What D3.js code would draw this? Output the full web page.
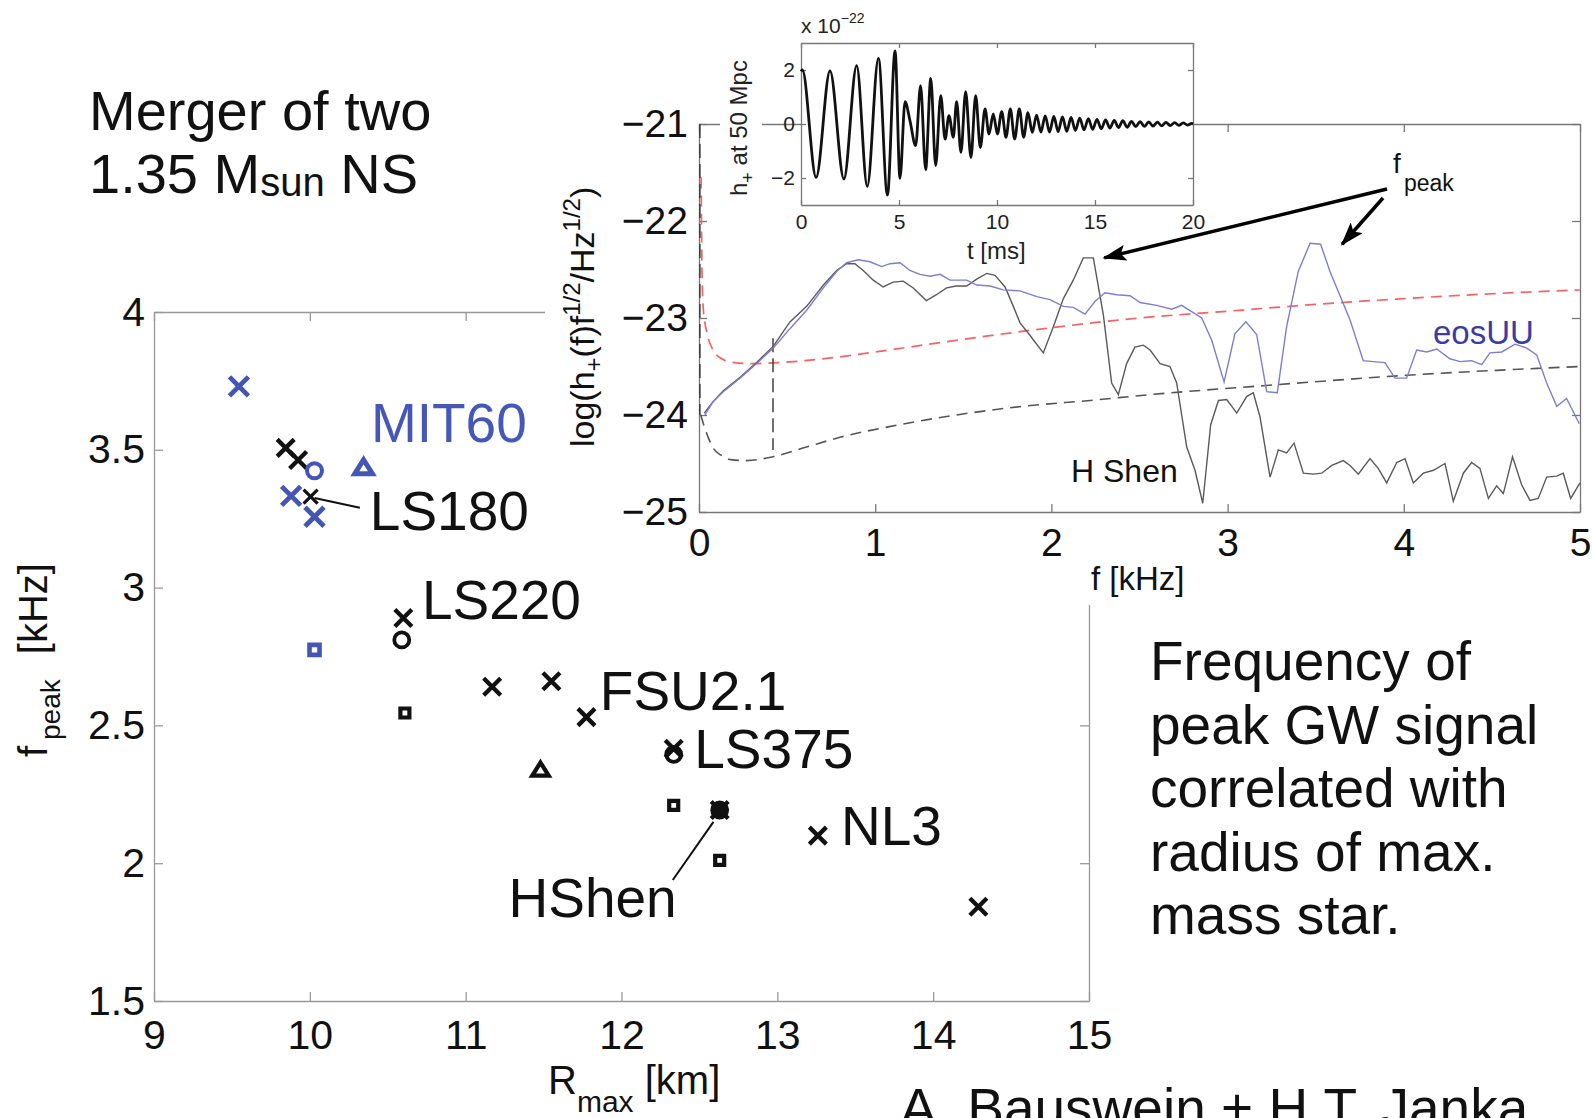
<!DOCTYPE html>
<html><head><meta charset="utf-8">
<script src="https://cdn.jsdelivr.net/npm/d3@7"></script>
<style>
html,body{margin:0;padding:0;background:#fff;}
svg{display:block;font-family:"Liberation Sans",Arial,Helvetica,sans-serif;}
</style></head><body>
<svg id="c" width="1592" height="1118"></svg>
<script>
// ---------------- DATA ----------------
// main scatter: f_peak [kHz] vs R_max [km]
const rTicks = [9, 10, 11, 12, 13, 14, 15];
const fTicks = [1.5, 2, 2.5, 3, 3.5, 4];
const blueCrossR = [9.545, 9.88, 10.03];
const blueCrossF = [3.73, 3.333, 3.257];
const blueCircleR = [10.03];
const blueCircleF = [3.424];
const blueTriangleR = [10.345];
const blueTriangleF = [3.435];
const blueSquareR = [10.03];
const blueSquareF = [2.774];
const blackCrossR = [9.845, 9.925, 10.60, 11.17, 11.55, 11.775, 12.335, 12.63, 13.26, 14.29];
const blackCrossF = [3.507, 3.463, 2.89, 2.64, 2.66, 2.53, 2.415, 2.193, 2.10, 1.842];
const ls180CrossR = [10.005];
const ls180CrossF = [3.33];
const blackCircleR = [10.59, 12.335, 12.63];
const blackCircleF = [2.81, 2.395, 2.193];
const blackSquareR = [10.61, 12.335, 12.63, 12.63];
const blackSquareF = [2.545, 2.21, 2.193, 2.01];
const blackTriangleR = [11.48];
const blackTriangleF = [2.338];
const eosNames = ["MIT60", "LS180", "LS220", "FSU2.1", "LS375", "NL3", "HShen"];
const eosLabelR = [10.392, 10.385, 10.719, 11.861, 12.467, 13.409, 11.275];
const eosLabelF = [3.528, 3.209, 2.886, 2.556, 2.345, 2.066, 1.805];

// spectrum inset: log(h+(f) f^1/2 / Hz^1/2) vs f [kHz]
const specFTicks = [0, 1, 2, 3, 4, 5];
const specVTicks = [-25, -24, -23, -22, -21];
const eosUU = [[0.034,-24.0],[0.081,-23.86],[0.138,-23.76],[0.233,-23.62],[0.327,-23.47],[0.422,-23.31],[0.516,-23.11],[0.611,-22.92],[0.706,-22.69],[0.781,-22.52],[0.838,-22.43],[0.904,-22.40],[0.970,-22.42],[1.037,-22.47],[1.084,-22.44],[1.141,-22.43],[1.197,-22.51],[1.254,-22.55],[1.311,-22.57],[1.368,-22.55],[1.425,-22.61],[1.519,-22.61],[1.576,-22.66],[1.652,-22.67],[1.727,-22.71],[1.822,-22.72],[1.917,-22.78],[1.992,-22.81],[2.068,-22.88],[2.124,-22.89],[2.191,-22.96],[2.247,-22.83],[2.304,-22.74],[2.370,-22.76],[2.446,-22.77],[2.503,-22.84],[2.598,-22.87],[2.683,-22.91],[2.739,-22.87],[2.853,-23.0],[2.910,-23.23],[2.980,-23.66],[3.042,-23.16],[3.104,-23.04],[3.165,-23.17],[3.222,-23.76],[3.282,-23.77],[3.335,-23.09],[3.401,-22.52],[3.468,-22.23],[3.528,-22.24],[3.581,-22.52],[3.695,-23.02],[3.770,-23.44],[3.827,-23.45],[3.893,-23.46],[3.950,-23.62],[4.016,-23.62],[4.073,-23.33],[4.130,-23.35],[4.187,-23.32],[4.262,-23.42],[4.319,-23.45],[4.385,-23.44],[4.442,-23.48],[4.489,-23.36],[4.556,-23.35],[4.631,-23.27],[4.698,-23.31],[4.754,-23.38],[4.811,-23.67],[4.868,-23.91],[4.924,-23.83],[4.996,-24.09]];
const hShen = [[0.03,-23.98],[0.081,-23.86],[0.138,-23.75],[0.233,-23.61],[0.327,-23.46],[0.422,-23.29],[0.516,-23.04],[0.611,-22.88],[0.706,-22.66],[0.781,-22.51],[0.838,-22.44],[0.885,-22.44],[0.932,-22.51],[0.989,-22.61],[1.045,-22.68],[1.102,-22.63],[1.159,-22.62],[1.216,-22.69],[1.29,-22.82],[1.348,-22.76],[1.405,-22.69],[1.46,-22.67],[1.519,-22.67],[1.576,-22.60],[1.633,-22.54],[1.68,-22.56],[1.737,-22.68],[1.784,-22.88],[1.822,-23.05],[1.879,-23.18],[1.954,-23.36],[2.011,-23.09],[2.068,-22.80],[2.124,-22.61],[2.181,-22.38],[2.238,-22.38],[2.295,-22.97],[2.342,-23.67],[2.38,-23.79],[2.427,-23.47],[2.474,-23.30],[2.522,-23.28],[2.56,-23.33],[2.617,-23.47],[2.673,-23.50],[2.711,-23.67],[2.768,-24.33],[2.815,-24.57],[2.859,-24.91],[2.904,-24.10],[2.948,-23.85],[2.995,-23.84],[3.052,-23.98],[3.108,-23.81],[3.146,-23.77],[3.184,-24.02],[3.241,-24.64],[3.288,-24.36],[3.335,-24.39],[3.377,-24.29],[3.43,-24.60],[3.487,-24.61],[3.534,-24.60],[3.591,-24.52],[3.657,-24.47],[3.695,-24.52],[3.742,-24.61],[3.808,-24.45],[3.855,-24.55],[3.903,-24.70],[3.96,-24.49],[4.007,-24.45],[4.054,-24.70],[4.111,-24.60],[4.168,-24.57],[4.234,-24.50],[4.281,-24.89],[4.338,-24.60],[4.385,-24.49],[4.432,-24.55],[4.48,-24.86],[4.527,-24.73],[4.565,-24.81],[4.617,-24.43],[4.669,-24.72],[4.716,-24.88],[4.763,-24.86],[4.811,-24.64],[4.868,-24.63],[4.905,-24.60],[4.947,-24.86],[5.0,-24.70]];
const noiseRed = [[0.012,-21.55],[0.014,-22.0],[0.017,-22.5],[0.024,-22.9],[0.045,-23.15],[0.08,-23.33],[0.12,-23.41],[0.2,-23.46],[0.3,-23.47],[0.45,-23.46],[0.6,-23.44],[0.8,-23.40],[1.0,-23.35],[1.5,-23.22],[2.0,-23.10],[2.5,-23.0],[3.0,-22.93],[3.5,-22.86],[4.0,-22.80],[4.5,-22.75],[5.0,-22.71]];
const noiseGray = [[0.01,-24.0],[0.03,-24.12],[0.05,-24.22],[0.08,-24.34],[0.13,-24.42],[0.18,-24.46],[0.27,-24.47],[0.42,-24.43],[0.61,-24.33],[0.8,-24.23],[1.08,-24.12],[1.46,-24.0],[1.84,-23.91],[2.22,-23.85],[2.56,-23.79],[3.26,-23.69],[4.02,-23.59],[5.0,-23.5]];
const cutLineF = [0.005, 0.42];
const cutLineTop = [-21.0, -23.21];
const cutLineBottom = [-24.0, -24.36];

// time-domain inset: h+ at 50 Mpc [1e-22] vs t [ms]
const timeTicks = [0, 5, 10, 15, 20];
const ampTicks = [-2, 0, 2];
const waveT = [0,0.07,0.77,1.48,2.19,2.84,3.38,3.95,4.41,4.80,5.05,5.31,5.56,5.85,6.10,6.36,6.62,6.87,7.13,7.35,7.55,7.77,7.94,8.16,8.40,8.67,8.91,9.15,9.39,9.59,9.81,10.02,10.24,10.46,10.68,10.90,11.14,11.36,11.58,11.80,12.02,12.24,12.46,12.68,12.90,13.12,13.34,13.56,13.78,14.00,14.22,14.44,14.66,14.88,15.10,15.32,15.54,15.76,15.98,16.20,16.42,16.64,16.86,17.08,17.30,17.52,17.74,17.96,18.18,18.40,18.62,18.84,19.06,19.28,19.50,19.72,19.94,20.0];
const waveH = [1.95,2.0,-1.98,1.97,-2.04,2.16,-2.31,2.43,-2.63,2.71,-2.01,0.83,0.12,-0.80,1.42,-1.69,1.69,-1.54,1.05,-0.56,0.31,-0.49,0.83,-1.05,1.20,-1.24,1.05,-0.87,0.56,-0.37,0.37,-0.37,0.46,-0.49,0.56,-0.56,0.56,-0.49,0.42,-0.31,0.33,-0.30,0.30,-0.30,0.28,-0.28,0.26,-0.27,0.24,-0.24,0.22,-0.22,0.20,-0.20,0.17,-0.18,0.15,-0.15,0.13,-0.13,0.12,-0.12,0.10,-0.10,0.09,-0.09,0.08,-0.08,0.07,-0.07,0.06,-0.06,0.05,-0.05,0.04,-0.04,0.02,0.0];

// ---------------- DRAW ----------------
const svg = d3.select('#c');
const BLUE = '#4355b5', BLACK = '#111';

function styleAxis(g, size, color, textColor) {
  g.attr('font-family', null).attr('font-size', null);
  g.select('.domain').attr('stroke', color).attr('stroke-width', 1.3);
  g.selectAll('.tick line').attr('stroke', color).attr('stroke-width', 1.3);
  g.selectAll('.tick text').attr('fill', textColor).style('font-size', size + 'px');
}

// main scales
const xR = d3.scaleLinear().domain([9, 15]).range([154, 1089]);
const yF = d3.scaleLinear().domain([1.5, 4]).range([1001, 312]);

const gMain = svg.append('g');
styleAxis(gMain.append('g').attr('transform', 'translate(0,1001)')
  .call(d3.axisBottom(xR).tickValues(rTicks).tickFormat(d => String(d)).tickSize(-9).tickSizeOuter(0).tickPadding(19)), 41, '#999', BLACK);
styleAxis(gMain.append('g').attr('transform', 'translate(154,0)')
  .call(d3.axisLeft(yF).tickValues(fTicks).tickFormat(d => String(d)).tickSize(-9).tickSizeOuter(0).tickPadding(9)), 41, '#999', BLACK);
styleAxis(gMain.append('g').attr('transform', 'translate(0,312)')
  .call(d3.axisTop(xR).tickValues(rTicks).tickFormat('').tickSize(-9).tickSizeOuter(0)), 41, '#999', BLACK);
styleAxis(gMain.append('g').attr('transform', 'translate(1089,0)')
  .call(d3.axisRight(yF).tickValues(fTicks).tickFormat('').tickSize(-9).tickSizeOuter(0)), 41, '#999', BLACK);

// marker shapes
function crossP(cx, cy, h) { return `M${cx-h},${cy-h}L${cx+h},${cy+h}M${cx-h},${cy+h}L${cx+h},${cy-h}`; }
function squareP(cx, cy, h) { return `M${cx-h},${cy-h}H${cx+h}V${cy+h}H${cx-h}Z`; }
function triP(cx, cy, h) { return `M${cx},${cy-h}L${cx+h*1.1},${cy+h*0.75}H${cx-h*1.1}Z`; }
function drawSeries(Rs, Fs, kind, color, size, sw) {
  const pts = d3.zip(Rs, Fs);
  if (kind === 'circle') {
    gMain.append('g').selectAll('circle').data(pts).join('circle')
      .attr('cx', d => xR(d[0])).attr('cy', d => yF(d[1])).attr('r', size)
      .attr('fill', 'none').attr('stroke', color).attr('stroke-width', sw);
  } else {
    const fn = kind === 'x' ? crossP : kind === 'square' ? squareP : triP;
    gMain.append('g').selectAll('path').data(pts).join('path')
      .attr('d', d => fn(xR(d[0]), yF(d[1]), size))
      .attr('fill', 'none').attr('stroke', color).attr('stroke-width', sw)
      .attr('stroke-linejoin', 'miter');
  }
}
drawSeries(blackSquareR, blackSquareF, 'square', BLACK, 4.5, 4.2);
drawSeries(blackCircleR, blackCircleF, 'circle', BLACK, 7.5, 3.8);
drawSeries(blackCrossR, blackCrossF, 'x', BLACK, 8.5, 4.3);
drawSeries(ls180CrossR, ls180CrossF, 'x', BLACK, 7, 3.2);
drawSeries(blackTriangleR, blackTriangleF, 'tri', BLACK, 7.5, 4.2);
drawSeries(blueSquareR, blueSquareF, 'square', BLUE, 5, 4.6);
drawSeries(blueCircleR, blueCircleF, 'circle', BLUE, 7.5, 4);
drawSeries(blueTriangleR, blueTriangleF, 'tri', BLUE, 8, 5);
drawSeries(blueCrossR, blueCrossF, 'x', BLUE, 9.5, 4.8);

// leader lines (LS180, HShen)
gMain.append('line').attr('x1', xR(10.321)).attr('y1', yF(3.290)).attr('x2', xR(10.03)).attr('y2', yF(3.325))
  .attr('stroke', BLACK).attr('stroke-width', 2);
gMain.append('line').attr('x1', xR(12.329)).attr('y1', yF(1.939)).attr('x2', xR(12.59)).attr('y2', yF(2.150))
  .attr('stroke', BLACK).attr('stroke-width', 2);

// ------------- spectrum inset -------------
svg.append('rect').attr('x', 545).attr('y', 0).attr('width', 1047).attr('height', 605).attr('fill', '#fff');
const xS = d3.scaleLinear().domain([0, 5]).range([699, 1580]);
const yS = d3.scaleLinear().domain([-25, -21]).range([512, 124]);
const gS = svg.append('g');
const minusFmt = d => (d < 0 ? '\u2212' : '') + Math.abs(d);
styleAxis(gS.append('g').attr('transform', 'translate(0,512)')
  .call(d3.axisBottom(xS).tickValues(specFTicks).tickFormat(d => String(d)).tickSize(-8).tickSizeOuter(0).tickPadding(16)), 39, '#777', BLACK);
styleAxis(gS.append('g').attr('transform', 'translate(699,0)')
  .call(d3.axisLeft(yS).tickValues(specVTicks).tickFormat(minusFmt).tickSize(-8).tickSizeOuter(0).tickPadding(11)), 39, '#777', BLACK);
styleAxis(gS.append('g').attr('transform', 'translate(0,124)')
  .call(d3.axisTop(xS).tickValues(specFTicks).tickFormat('').tickSize(-8).tickSizeOuter(0)), 39, '#777', BLACK);
styleAxis(gS.append('g').attr('transform', 'translate(1580,0)')
  .call(d3.axisRight(yS).tickValues(specVTicks).tickFormat('').tickSize(-8).tickSizeOuter(0)), 39, '#777', BLACK);

const lineS = d3.line().x(d => xS(d[0])).y(d => yS(d[1]));
const smoothS = d3.line().x(d => xS(d[0])).y(d => yS(d[1])).curve(d3.curveMonotoneX);
gS.append('path').attr('d', smoothS(noiseGray)).attr('fill', 'none').attr('stroke', '#555')
  .attr('stroke-width', 1.6).attr('stroke-dasharray', '11,7');
gS.append('path').attr('d', smoothS(noiseRed)).attr('fill', 'none').attr('stroke', '#f26464')
  .attr('stroke-width', 1.7).attr('stroke-dasharray', '11,7');
gS.append('g').selectAll('line').data(d3.zip(cutLineF, cutLineTop, cutLineBottom)).join('line')
  .attr('x1', d => xS(d[0])).attr('x2', d => xS(d[0])).attr('y1', d => yS(d[1])).attr('y2', d => yS(d[2]))
  .attr('stroke', '#333').attr('stroke-width', 1.4).attr('stroke-dasharray', '14,6');
gS.append('path').attr('d', lineS(hShen)).attr('fill', 'none').attr('stroke', '#5a5a5a').attr('stroke-width', 1.4);
gS.append('path').attr('d', lineS(eosUU)).attr('fill', 'none').attr('stroke', '#7d7dd2').attr('stroke-width', 1.4);

// spectrum labels
gS.append('text').attr('x', 1433).attr('y', 344).attr('fill', '#3b3ba6').style('font-size', '33px').text('eosUU');
gS.append('text').attr('x', 1071).attr('y', 482).attr('fill', BLACK).style('font-size', '32px').text('H Shen');
gS.append('text').attr('x', 1091).attr('y', 590).attr('fill', BLACK).style('font-size', '33px').text('f [kHz]');
const yl = gS.append('text').attr('transform', 'translate(594,447) rotate(-90)').attr('fill', BLACK).style('font-size', '34px');
yl.append('tspan').text('log(h');
yl.append('tspan').attr('dy', 8).style('font-size', '24px').text('+');
yl.append('tspan').attr('dy', -8).text('(f)f');
yl.append('tspan').attr('dy', -14).style('font-size', '24px').text('1/2');
yl.append('tspan').attr('dy', 14).text('/Hz');
yl.append('tspan').attr('dy', -14).style('font-size', '24px').text('1/2');
yl.append('tspan').attr('dy', 14).text(')');

// f_peak arrows
const defs = svg.append('defs');
defs.append('marker').attr('id', 'ah').attr('viewBox', '0 0 24 16').attr('refX', 22).attr('refY', 8)
  .attr('markerWidth', 24).attr('markerHeight', 16).attr('markerUnits', 'userSpaceOnUse').attr('orient', 'auto')
  .append('path').attr('d', 'M0,0 L24,8 L0,16 L5,8 Z').attr('fill', '#000');
gS.append('line').attr('x1', 1387).attr('y1', 189).attr('x2', xS(2.30)).attr('y2', yS(-22.38))
  .attr('stroke', '#000').attr('stroke-width', 3.5).attr('marker-end', 'url(#ah)');
gS.append('line').attr('x1', 1383).attr('y1', 198).attr('x2', xS(3.65)).attr('y2', yS(-22.24))
  .attr('stroke', '#000').attr('stroke-width', 3.5).attr('marker-end', 'url(#ah)');
gS.append('text').attr('x', 1393).attr('y', 173).attr('fill', BLACK).style('font-size', '28px').text('f');
gS.append('text').attr('x', 1404).attr('y', 191).attr('fill', BLACK).style('font-size', '23px').text('peak');

// ------------- time-domain inset -------------
const xT = d3.scaleLinear().domain([0, 20]).range([801, 1193]);
const yT = d3.scaleLinear().domain([-3, 3]).range([205, 43]);
const gT = svg.append('g');
gT.append('rect').attr('x', 801).attr('y', 43).attr('width', 392).attr('height', 162).attr('fill', '#fff');
gT.append('rect').attr('x', 720).attr('y', 45).attr('width', 42).attr('height', 158).attr('fill', '#fff');
styleAxis(gT.append('g').attr('transform', 'translate(0,205)')
  .call(d3.axisBottom(xT).tickValues(timeTicks).tickFormat(d => String(d)).tickSize(-5).tickSizeOuter(0).tickPadding(9)), 21, '#777', '#222');
styleAxis(gT.append('g').attr('transform', 'translate(801,0)')
  .call(d3.axisLeft(yT).tickValues(ampTicks).tickFormat(minusFmt).tickSize(-5).tickSizeOuter(0).tickPadding(6)), 21, '#777', '#222');
styleAxis(gT.append('g').attr('transform', 'translate(0,43)')
  .call(d3.axisTop(xT).tickValues(timeTicks).tickFormat('').tickSize(-5).tickSizeOuter(0)), 21, '#777', '#222');
styleAxis(gT.append('g').attr('transform', 'translate(1193,0)')
  .call(d3.axisRight(yT).tickValues(ampTicks).tickFormat('').tickSize(-5).tickSizeOuter(0)), 21, '#777', '#222');
gT.append('path').attr('d', d3.line().x(d => xT(d[0])).y(d => yT(d[1])).curve(d3.curveMonotoneX)(d3.zip(waveT, waveH)))
  .attr('fill', 'none').attr('stroke', '#111').attr('stroke-width', 2.8);
const xe = gT.append('text').attr('x', 801).attr('y', 33).attr('fill', '#222').style('font-size', '21px');
xe.append('tspan').text('x 10');
xe.append('tspan').attr('dy', -10).style('font-size', '14px').text('\u221222');
gT.append('text').attr('x', 967).attr('y', 259).attr('fill', '#222').style('font-size', '24px').text('t [ms]');
const tl = gT.append('text').attr('transform', 'translate(747,196) rotate(-90)').attr('fill', '#222').style('font-size', '24px');
tl.append('tspan').text('h');
tl.append('tspan').attr('dy', 7).style('font-size', '18px').text('+');
tl.append('tspan').attr('dy', -7).text(' at 50 Mpc');

// ------------- main annotations -------------
const gA = svg.append('g');
gA.selectAll('text.eos').data(d3.zip(eosNames, eosLabelR, eosLabelF)).join('text')
  .attr('class', 'eos').attr('x', d => xR(d[1])).attr('y', d => yF(d[2]))
  .attr('fill', d => d[0] === 'MIT60' ? '#4558b8' : BLACK).style('font-size', '55px').text(d => d[0]);
// axis labels
const xl = gA.append('text').attr('x', 548).attr('y', 1094).attr('fill', BLACK).style('font-size', '40px');
xl.append('tspan').text('R');
xl.append('tspan').attr('dy', 18).style('font-size', '30px').text('max');
xl.append('tspan').attr('dy', -18).text(' [km]');
gA.append('text').attr('transform', 'translate(47,757) rotate(-90)').attr('fill', BLACK).style('font-size', '40px').text('f');
gA.append('text').attr('transform', 'translate(60,740) rotate(-90)').attr('fill', BLACK).style('font-size', '28px').text('peak');
gA.append('text').attr('transform', 'translate(47,563) rotate(-90)').attr('text-anchor', 'end').attr('fill', BLACK).style('font-size', '40px').text('[kHz]');
// title
gA.append('text').attr('x', 89).attr('y', 130).attr('fill', BLACK).style('font-size', '56px').text('Merger of two');
const t2 = gA.append('text').attr('x', 89).attr('y', 193).attr('fill', BLACK).style('font-size', '56px');
t2.append('tspan').text('1.35 M');
t2.append('tspan').attr('dy', 3).style('font-size', '40px').text('sun');
t2.append('tspan').attr('dy', -3).text(' NS');
// description
const desc = ['Frequency of', 'peak GW signal', 'correlated with', 'radius of max.', 'mass star.'];
gA.selectAll('text.desc').data(desc).join('text').attr('class', 'desc')
  .attr('x', 1150).attr('y', (d, i) => 680 + i * 63.5).attr('fill', BLACK).style('font-size', '55px').text(d => d);
gA.append('text').attr('x', 900).attr('y', 1127).attr('fill', BLACK).style('font-size', '55px').text('A. Bauswein + H.T. Janka');
</script></body></html>
